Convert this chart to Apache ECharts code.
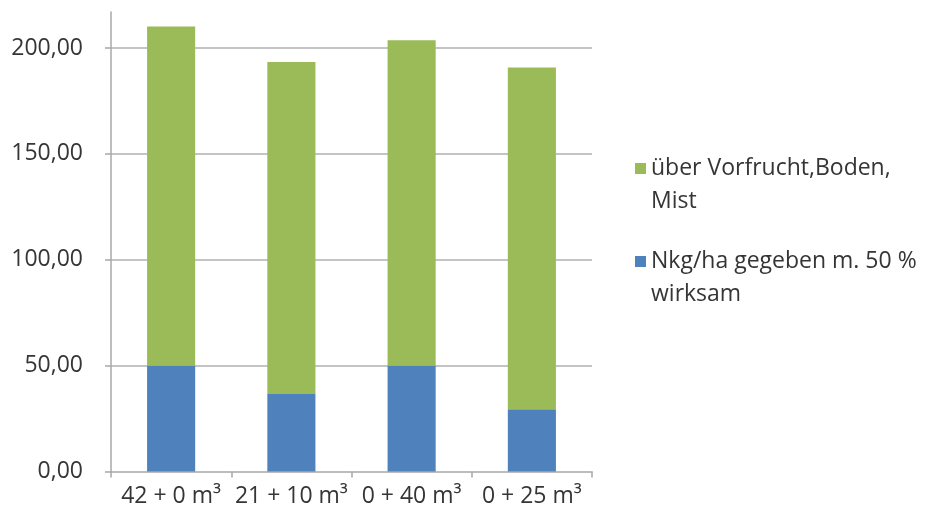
<!DOCTYPE html>
<html>
<head>
<meta charset="utf-8">
<script src="https://cdn.jsdelivr.net/npm/echarts@6/dist/echarts.min.js"></script>
<style>
  html, body { margin: 0; padding: 0; background: #ffffff; }
  #chart { width: 930px; height: 524px; }
</style>
</head>
<body>
<div id="chart"></div>
<script>
// Stickstoff-Bilanz je Variante (N kg/ha)
const categories = ['42 + 0 m³', '21 + 10 m³', '0 + 40 m³', '0 + 25 m³'];
const nGegeben = [50.0, 36.6, 50.0, 29.4];          // Nkg/ha gegeben m. 50 % wirksam
const nVorfrucht = [160.2, 156.8, 153.6, 161.4];    // über Vorfrucht, Boden, Mist
const yTicks = [0, 50, 100, 150, 200];

const nameGegeben = 'Nkg/ha gegeben m. 50 % wirksam';
const nameVorfrucht = 'über Vorfrucht,Boden, Mist';
// leading empty line keeps the square level with the first text line
const legendText = {};
legendText[nameGegeben] = '\nNkg/ha gegeben m. 50 %\nwirksam';
legendText[nameVorfrucht] = '\nüber Vorfrucht,Boden,\nMist';

const FONT = 'Open Sans';
const TEXT = '#353535';
const SIZE = 23;

const chart = echarts.init(document.getElementById('chart'), null, { renderer: 'canvas' });
chart.setOption({
  animation: false,
  backgroundColor: '#ffffff',
  textStyle: { fontFamily: FONT },
  grid: { left: 111, right: 338, top: 12, bottom: 52.5 },
  legend: {
    orient: 'vertical',
    left: 635,
    top: 119,
    padding: 0,
    itemGap: -6,
    itemWidth: 11,
    itemHeight: 11,
    icon: 'rect',
    selectedMode: false,
    data: [nameVorfrucht, nameGegeben],
    formatter: name => legendText[name],
    textStyle: {
      fontFamily: FONT,
      fontSize: SIZE,
      color: TEXT,
      lineHeight: 33
    }
  },
  xAxis: {
    type: 'category',
    data: categories,
    axisLine: { lineStyle: { color: '#a8a8a8', width: 1.5 } },
    axisTick: { show: true, length: 6, lineStyle: { color: '#a8a8a8', width: 1.5 } },
    axisLabel: { fontFamily: FONT, fontSize: SIZE, color: TEXT, margin: 13, interval: 0 },
    splitLine: { show: false }
  },
  yAxis: {
    type: 'value',
    min: 0,
    max: 217,
    interval: 50,
    axisLine: { show: true, lineStyle: { color: '#a8a8a8', width: 1.5 } },
    axisTick: { show: true, length: 6, customValues: yTicks, lineStyle: { color: '#a8a8a8', width: 1.5 } },
    axisLabel: {
      fontFamily: FONT, fontSize: SIZE, color: TEXT, margin: 28,
      customValues: yTicks,
      formatter: v => v.toFixed(2).replace('.', ',')
    },
    splitLine: { show: true, showMinLine: false, lineStyle: { color: '#c4c4c4', width: 2 } }
  },
  series: [
    {
      name: nameGegeben,
      type: 'bar',
      stack: 'n',
      barWidth: '40%',
      itemStyle: { color: '#4f81bd' },
      data: nGegeben
    },
    {
      name: nameVorfrucht,
      type: 'bar',
      stack: 'n',
      barWidth: '40%',
      itemStyle: { color: '#9bbb59' },
      data: nVorfrucht
    }
  ]
});
</script>
</body>
</html>
